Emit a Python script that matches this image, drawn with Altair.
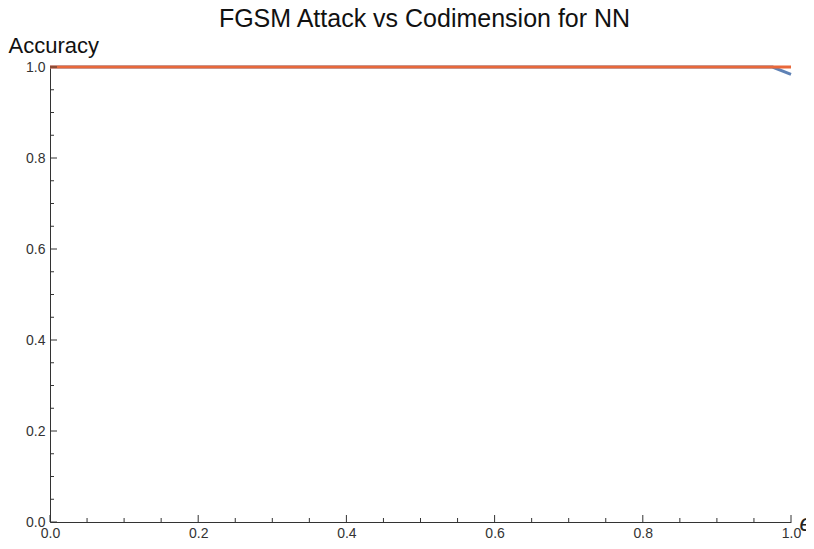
import altair as alt
import pandas as pd

# Data
eps = [0.0, 0.1, 0.2, 0.3, 0.4, 0.5, 0.6, 0.7, 0.8, 0.9, 0.975, 1.0]
acc_blue = [1.0, 1.0, 1.0, 1.0, 1.0, 1.0, 1.0, 1.0, 1.0, 1.0, 1.0, 0.984]
acc_orange = [1.0, 1.0, 1.0, 1.0, 1.0, 1.0, 1.0, 1.0, 1.0, 1.0, 1.0, 1.0]
series_names = ["Codim A", "Codim B"]
series_colors = ["#5E81B5", "#E8683A"]
title_text = ["FGSM Attack vs Codimension for NN"]

major_ticks = [0.0, 0.2, 0.4, 0.6, 0.8, 1.0]
minor_ticks = [0.05, 0.1, 0.15, 0.25, 0.3, 0.35, 0.45, 0.5, 0.55,
               0.65, 0.7, 0.75, 0.85, 0.9, 0.95]

W, H = 741, 455
FONT = "Liberation Sans"

rows = []
for name, vals in zip(series_names, [acc_blue, acc_orange]):
    for i, (e, a) in enumerate(zip(eps, vals)):
        rows.append({"eps": e, "acc": a, "series": name, "order": i})
df = pd.DataFrame(rows)

xscale = alt.Scale(domain=[0, 1], nice=False, zero=False)
yscale = alt.Scale(domain=[0, 1], nice=False, zero=False)

xaxis = alt.Axis(
    values=major_ticks, format=".1f", ticks=False, grid=False,
    domainColor="#333333", domainWidth=1,
    labelFont=FONT, labelFontSize=14, labelColor="#333333", labelPadding=4,
    labelFlush=False,
    title="ϵ", titleFont=FONT, titleFontSize=24, titleFontStyle="italic",
    titleFontWeight="normal", titleColor="#222222",
    titleAlign="left", titleBaseline="alphabetic", titleX=749, titleY=8,
)
yaxis = alt.Axis(
    values=major_ticks, format=".1f", ticks=False, grid=False,
    domainColor="#333333", domainWidth=1,
    labelFont=FONT, labelFontSize=14, labelColor="#333333", labelPadding=5,
    labelFlush=False,
    title="Accuracy", titleFont=FONT, titleFontSize=22, titleFontWeight="normal",
    titleColor="#111111", titleAngle=0,
    titleAlign="left", titleBaseline="alphabetic", titleX=-42, titleY=-15,
)

lines = alt.Chart(df).mark_line(strokeWidth=3, strokeCap="butt").encode(
    x=alt.X("eps:Q", scale=xscale, axis=xaxis),
    y=alt.Y("acc:Q", scale=yscale, axis=yaxis),
    color=alt.Color("series:N", scale=alt.Scale(domain=series_names, range=series_colors), legend=None),
    order="order:Q",
    detail="series:N",
)

maj_df = pd.DataFrame({"t": major_ticks})
min_df = pd.DataFrame({"t": minor_ticks})

def yticks(d, length):
    return alt.Chart(d).mark_rule(color="#333333", strokeWidth=1).encode(
        y=alt.Y("t:Q", scale=yscale, axis=yaxis),
        x=alt.value(0), x2=alt.value(length),
    )

def xticks(d, length):
    return alt.Chart(d).mark_rule(color="#333333", strokeWidth=1).encode(
        x=alt.X("t:Q", scale=xscale, axis=xaxis),
        y=alt.value(H), y2=alt.value(H - length),
    )

title = alt.Chart(pd.DataFrame({"t": title_text})).mark_text(
    font=FONT, fontSize=25, color="#111111", align="center", baseline="alphabetic",
).encode(text="t:N", x=alt.value(W / 2 + 4), y=alt.value(-40))

chart = alt.layer(
    lines,
    yticks(maj_df, 7), yticks(min_df, 4),
    xticks(maj_df, 7), xticks(min_df, 4),
    title,
).properties(
    width=W, height=H,
    autosize=alt.AutoSizeParams(type="none"),
    padding={"left": 42, "top": 59, "right": 15, "bottom": 19},
).configure_view(stroke=None)

chart.save("out.html", embed_options={"renderer": "svg", "actions": False})
